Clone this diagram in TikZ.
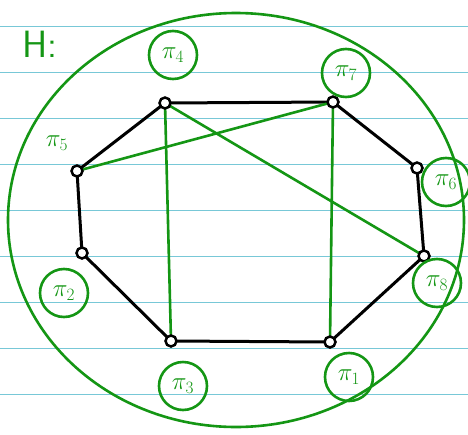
\documentclass[tikz,border=0pt]{standalone}
\usepackage{tikz}
\definecolor{pen}{RGB}{20,150,20}
\definecolor{rule}{RGB}{120,200,215}
\begin{document}
\begin{tikzpicture}[x=1pt,y=-1pt,
  vert/.style={circle,draw=black,line width=2.5pt,inner sep=0pt,minimum size=11pt,fill=white},
  blk/.style={black,line width=3pt,line join=round},
  grn/.style={pen,line width=2.6pt},
  lab/.style={circle,draw=pen,line width=2.6pt,text=pen,inner sep=0pt,minimum size=48pt,font=\fontsize{26}{28}\selectfont}]
\useasboundingbox (0,0) rectangle (468,434);
\fill[white] (0,0) rectangle (468,434);
\foreach \y in {26,72,118,164,210,256,302,348,394}
  \draw[rule,line width=1pt] (0,\y) -- (468,\y);
\draw[grn] (236,220) ellipse [x radius=228, y radius=207];
\node[text=pen,font=\fontsize{38}{40}\selectfont\sffamily] (title) at (40,44) {H:};
\coordinate (A) at (165,103);
\coordinate (B) at (333,102);
\coordinate (C) at (417,168);
\coordinate (D) at (424,256);
\coordinate (E) at (330,342);
\coordinate (F) at (171,341);
\coordinate (G) at (82,253);
\coordinate (H) at (77,171);
\draw[blk] (A) -- (B) -- (C) -- (D) -- (E) -- (F) -- (G) -- (H) -- cycle;
\draw[grn] (A) -- (F);
\draw[grn] (B) -- (E);
\draw[grn] (H) -- (B);
\draw[grn] (A) -- (D);
\foreach \n in {A,B,C,D,E,F,G,H} \node[vert] (v\n) at (\n) {};
\node[lab] (l4) at (173,55) {$\pi_4$};
\node[lab] (l7) at (346,73) {$\pi_7$};
\node[lab] (l6) at (446,182) {$\pi_6$};
\node[lab] (l8) at (437,283) {$\pi_8$};
\node[lab] (l1) at (349,377) {$\pi_1$};
\node[lab] (l3) at (183,386) {$\pi_3$};
\node[lab] (l2) at (64,293) {$\pi_2$};
\node[text=pen,font=\fontsize{26}{28}\selectfont] (l5) at (57,143) {$\pi_5$};
\end{tikzpicture}
\end{document}
